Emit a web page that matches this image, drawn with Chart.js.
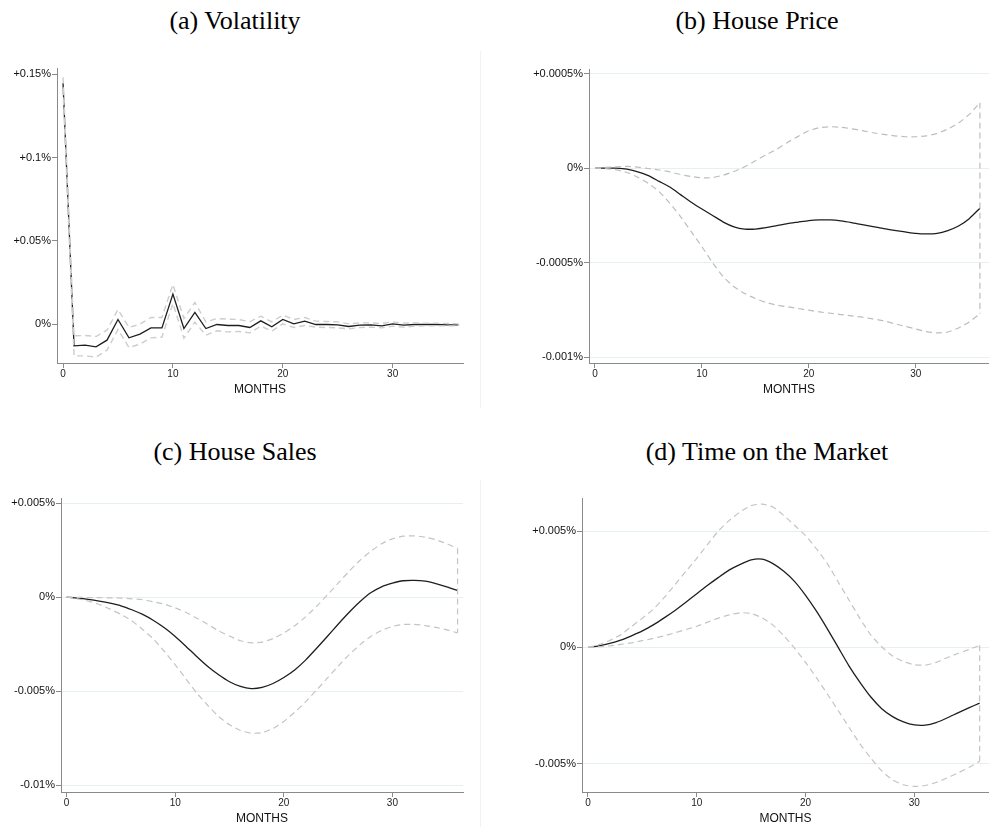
<!DOCTYPE html>
<html>
<head>
<meta charset="utf-8">
<script src="https://cdn.jsdelivr.net/npm/chart.js@4"></script>
<style>
  body { margin: 0; background: #fff; width: 989px; height: 827px; position: relative; overflow: hidden; }
  .cap { position: absolute; font-family: "Liberation Serif", "DejaVu Serif", serif; font-size: 26px; line-height: 1; color: #000; white-space: nowrap; transform: translateX(-50%); }
  .pane { position: absolute; }
  .rule { position: absolute; width: 1px; background: #f2f2f2; }
</style>
</head>
<body>
<div class="cap" style="left:235px; top:8px;">(a) Volatility</div>
<div class="cap" style="left:757px; top:8px;">(b) House Price</div>
<div class="cap" style="left:235px; top:439px;">(c) House Sales</div>
<div class="cap" style="left:767px; top:439px;">(d) Time on the Market</div>
<div class="rule" style="left:480px; top:51px; height:357px;"></div>
<div class="rule" style="left:480px; top:480px; height:347px;"></div>

<canvas id="chartA" class="pane" width="480" height="365" style="left:0; top:45px;"></canvas>
<canvas id="chartB" class="pane" width="499" height="365" style="left:490px; top:45px;"></canvas>
<canvas id="chartC" class="pane" width="480" height="352" style="left:0; top:475px;"></canvas>
<canvas id="chartD" class="pane" width="499" height="352" style="left:490px; top:475px;"></canvas>

<script>
// months after the shock
const months = [0, 1, 2, 3, 4, 5, 6, 7, 8, 9, 10, 11, 12, 13, 14, 15, 16, 17, 18,
  19, 20, 21, 22, 23, 24, 25, 26, 27, 28, 29, 30, 31, 32, 33, 34, 35, 36];
const monthTicks = [0, 10, 20, 30];

// (a) volatility, in %
const volMain = [0.1446, -0.0130, -0.0126, -0.0136, -0.0096, 0.0028, -0.0082, -0.0060, -0.0022, -0.0022,
  0.0180, -0.0026, 0.0070, -0.0026, -0.0002, -0.0008, -0.0008, -0.0020, 0.0020, -0.0016,
  0.0028, 0.0002, 0.0018, -0.0002, -0.0002, -0.0004, -0.0014, -0.0006, -0.0004, -0.0010,
  0.0002, -0.0006, -0.0002, -0.0002, -0.0002, -0.0004, -0.0004];
const volUpper = [0.1482, -0.0070, -0.0068, -0.0074, -0.0036, 0.0088, -0.0020, 0.0000, 0.0040, 0.0040,
  0.0238, 0.0034, 0.0130, 0.0014, 0.0034, 0.0030, 0.0028, 0.0014, 0.0048, 0.0014,
  0.0054, 0.0028, 0.0040, 0.0018, 0.0016, 0.0014, 0.0002, 0.0008, 0.0008, 0.0004,
  0.0014, 0.0006, 0.0008, 0.0006, 0.0006, 0.0004, 0.0002];
const volLower = [0.1410, -0.0190, -0.0190, -0.0198, -0.0156, -0.0032, -0.0140, -0.0120, -0.0082, -0.0078,
  0.0124, -0.0084, 0.0012, -0.0066, -0.0040, -0.0046, -0.0044, -0.0052, -0.0012, -0.0042,
  0.0002, -0.0020, -0.0008, -0.0018, -0.0020, -0.0022, -0.0028, -0.0020, -0.0018, -0.0022,
  -0.0012, -0.0018, -0.0012, -0.0010, -0.0010, -0.0010, -0.0010];
const volTicks = [0, 0.05, 0.1, 0.15];
const volTickLabels = ['0%', '+0.05%', '+0.1%', '+0.15%'];

// (b) house price, in %
const priceMain = [0, 0, 0, -0.000005, -0.00002, -0.00004, -0.00007, -0.0001, -0.00014, -0.00018,
  -0.000216, -0.00025, -0.000285, -0.00031, -0.000322, -0.000322, -0.000315, -0.000304, -0.000293, -0.000285,
  -0.000277, -0.000274, -0.000274, -0.000279, -0.000288, -0.000299, -0.000309, -0.00032, -0.000329, -0.000337,
  -0.000345, -0.000348, -0.000345, -0.00033, -0.000306, -0.000267, -0.000212];
const priceUpper = [0, 0.000004, 0.000007, 0.000009, 0.000005, -0.000002, -0.00001, -0.00002, -0.000034, -0.000044,
  -0.000051, -0.00005, -0.000037, -0.000018, 0.000007, 0.000039, 0.00007, 0.0001, 0.000136, 0.000168,
  0.000198, 0.000214, 0.000219, 0.000216, 0.000208, 0.000198, 0.000187, 0.000178, 0.000171, 0.000166,
  0.000166, 0.000171, 0.000184, 0.000207, 0.000238, 0.000284, 0.000346];
const priceLower = [0, -0.000003, -0.000009, -0.000023, -0.000048, -0.000081, -0.000124, -0.000186, -0.000256, -0.000336,
  -0.000415, -0.0005, -0.000574, -0.000627, -0.000663, -0.000689, -0.00071, -0.000724, -0.000733, -0.000742,
  -0.000751, -0.00076, -0.000767, -0.000774, -0.000781, -0.000788, -0.000797, -0.000807, -0.000822, -0.000836,
  -0.00085, -0.000864, -0.000871, -0.000866, -0.000845, -0.000813, -0.000769];
const priceTicks = [-0.001, -0.0005, 0, 0.0005];
const priceTickLabels = ['-0.001%', '-0.0005%', '0%', '+0.0005%'];

// (c) house sales, in %
const salesMain = [0, -0.00005, -0.00012, -0.00021, -0.00032, -0.00046, -0.00067, -0.00092, -0.00124, -0.00163,
  -0.00209, -0.00262, -0.00317, -0.00369, -0.00413, -0.0045, -0.00475, -0.00486, -0.0048, -0.00459,
  -0.00427, -0.00387, -0.00335, -0.00273, -0.00209, -0.00144, -0.00082, -0.00025, 0.00023, 0.00055,
  0.00074, 0.00087, 0.00089, 0.00085, 0.00072, 0.00055, 0.00035];
const salesUpper = [0, -0.00001, -0.00002, -0.00003, -0.00004, -0.00005, -0.00009, -0.00014, -0.00025, -0.00037,
  -0.00057, -0.00082, -0.00112, -0.00145, -0.00179, -0.00207, -0.00232, -0.00243, -0.00239, -0.0022,
  -0.00191, -0.00152, -0.00105, -0.0005, 0.00011, 0.00074, 0.00137, 0.00195, 0.00243, 0.00284,
  0.0031, 0.00324, 0.00326, 0.00319, 0.00305, 0.00284, 0.00259];
const salesLower = [0, -0.00009, -0.00021, -0.00039, -0.00064, -0.00092, -0.00126, -0.00172, -0.00223, -0.00289,
  -0.0036, -0.00436, -0.00511, -0.00576, -0.00635, -0.00679, -0.00709, -0.00723, -0.00721, -0.00698,
  -0.00661, -0.00612, -0.00557, -0.00495, -0.00431, -0.00367, -0.00307, -0.00254, -0.00209, -0.00177,
  -0.00156, -0.00145, -0.00145, -0.00151, -0.00161, -0.00174, -0.0019];
const salesTicks = [-0.01, -0.005, 0, 0.005];
const salesTickLabels = ['-0.01%', '-0.005%', '0%', '+0.005%'];

// (d) time on the market, in %
const tomMain = [0, 0.00007, 0.00017, 0.00031, 0.0005, 0.00071, 0.00097, 0.00127, 0.00159, 0.00194,
  0.00231, 0.00267, 0.00301, 0.00333, 0.00357, 0.00376, 0.00379, 0.0036, 0.00327, 0.00283,
  0.00224, 0.00156, 0.0008, 0, -0.0008, -0.0015, -0.00213, -0.00263, -0.00297, -0.0032,
  -0.00333, -0.00334, -0.00323, -0.00303, -0.00281, -0.0026, -0.00239];
const tomUpper = [0, 0.00012, 0.00030, 0.00054, 0.0009, 0.00126, 0.00164, 0.00214, 0.0027, 0.00327,
  0.00383, 0.00443, 0.00501, 0.00546, 0.00583, 0.00609, 0.00616, 0.00603, 0.00567, 0.00524,
  0.0048, 0.00424, 0.0036, 0.00281, 0.00203, 0.00124, 0.00053, 0.00003, -0.00037, -0.00061,
  -0.00074, -0.00076, -0.00064, -0.00044, -0.00026, -0.00009, 0.00009];
const tomLower = [0, 0.00003, 0.00007, 0.00013, 0.0002, 0.00029, 0.00039, 0.0005, 0.00063, 0.00077,
  0.00091, 0.00109, 0.00126, 0.0014, 0.00149, 0.00146, 0.00127, 0.00096, 0.0005, -0.00004,
  -0.00064, -0.0013, -0.002, -0.00271, -0.00344, -0.00414, -0.00476, -0.0053, -0.00569, -0.0059,
  -0.00597, -0.00593, -0.0058, -0.00561, -0.00539, -0.00516, -0.00489];
const tomTicks = [-0.005, 0, 0.005];
const tomTickLabels = ['-0.005%', '0%', '+0.005%'];

const tickFont = { family: '"Liberation Sans", Arial, sans-serif', size: 11 };
const xTickFont = { family: '"Liberation Sans", Arial, sans-serif', size: 10 };
const titleFont = { family: '"Liberation Sans", Arial, sans-serif', size: 12 };

function pts(arr) {
  return months.map((m, i) => ({ x: m, y: arr[i] }));
}

function drawPanel(id, p) {
  const canvas = document.getElementById(id);
  const W = canvas.width, H = canvas.height;
  const last = months.length - 1;
  const band = { borderColor: p.bandColor, borderWidth: p.bandWidth, borderDash: [6, 4], pointRadius: 0, tension: p.tension };
  new Chart(canvas, {
    type: 'line',
    data: {
      datasets: [
        Object.assign({ data: pts(p.upper) }, band),
        Object.assign({ data: pts(p.lower) }, band),
        Object.assign({ data: [{ x: months[last], y: p.upper[last] }, { x: months[last], y: p.lower[last] }] }, band),
        { data: pts(p.main), borderColor: '#1e1e1e', borderWidth: 1.3, pointRadius: 0, tension: p.tension }
      ]
    },
    options: {
      responsive: false,
      animation: false,
      devicePixelRatio: 1,
      layout: { padding: { left: 0, top: p.area.top, right: W - p.area.right, bottom: 0 } },
      plugins: { legend: { display: false }, tooltip: { enabled: false } },
      scales: {
        x: {
          type: 'linear',
          min: p.xMin,
          max: p.xMax,
          afterBuildTicks: s => { s.ticks = monthTicks.map(v => ({ value: v })); },
          afterFit: s => { s.height = H - p.area.bottom; },
          grid: { drawOnChartArea: false, tickLength: 5, tickColor: '#8a8a8a' },
          border: { color: '#8a8a8a', width: 1 },
          ticks: { font: xTickFont, color: '#222', padding: 0, maxRotation: 0 },
          title: { display: true, text: 'MONTHS', font: titleFont, color: '#111', padding: { top: 0, bottom: p.titlePad } }
        },
        y: {
          type: 'linear',
          min: p.yMin,
          max: p.yMax,
          afterBuildTicks: s => { s.ticks = p.yTicks.map(v => ({ value: v })); },
          afterFit: s => { s.width = p.area.left; },
          grid: { drawOnChartArea: p.grid, color: '#e6eff1', lineWidth: 1, tickLength: 5, tickColor: '#8a8a8a' },
          border: { color: '#8a8a8a', width: 1 },
          ticks: {
            font: tickFont, color: '#111', padding: 1,
            callback: (v) => p.yLabels[p.yTicks.indexOf(v)]
          }
        }
      }
    }
  });
}

drawPanel('chartA', {
  main: volMain, upper: volUpper, lower: volLower,
  yTicks: volTicks, yLabels: volTickLabels, yMin: -0.0233, yMax: 0.1537,
  xMin: -0.55, xMax: 36.4, area: { left: 57, top: 23, right: 463, bottom: 318 }, titlePad: 13,
  grid: false, bandColor: '#cdcdcd', bandWidth: 1.4, tension: 0
});
drawPanel('chartB', {
  main: priceMain, upper: priceUpper, lower: priceLower,
  yTicks: priceTicks, yLabels: priceTickLabels, yMin: -0.00103, yMax: 0.000524,
  xMin: -0.56, xMax: 36.85, area: { left: 99, top: 24, right: 499, bottom: 318 }, titlePad: 13,
  grid: true, bandColor: '#bdbdbd', bandWidth: 1.2, tension: 0.2
});
drawPanel('chartC', {
  main: salesMain, upper: salesUpper, lower: salesLower,
  yTicks: salesTicks, yLabels: salesTickLabels, yMin: -0.01036, yMax: 0.00527,
  xMin: -0.52, xMax: 36.5, area: { left: 61, top: 23, right: 463, bottom: 317 }, titlePad: 1.5,
  grid: true, bandColor: '#c4c4c4', bandWidth: 1.2, tension: 0.2
});
drawPanel('chartD', {
  main: tomMain, upper: tomUpper, lower: tomLower,
  yTicks: tomTicks, yLabels: tomTickLabels, yMin: -0.00621, yMax: 0.00642,
  xMin: -0.55, xMax: 36.86, area: { left: 92, top: 23, right: 499, bottom: 317 }, titlePad: 1.5,
  grid: true, bandColor: '#c4c4c4', bandWidth: 1.2, tension: 0.2
});
</script>
</body>
</html>
